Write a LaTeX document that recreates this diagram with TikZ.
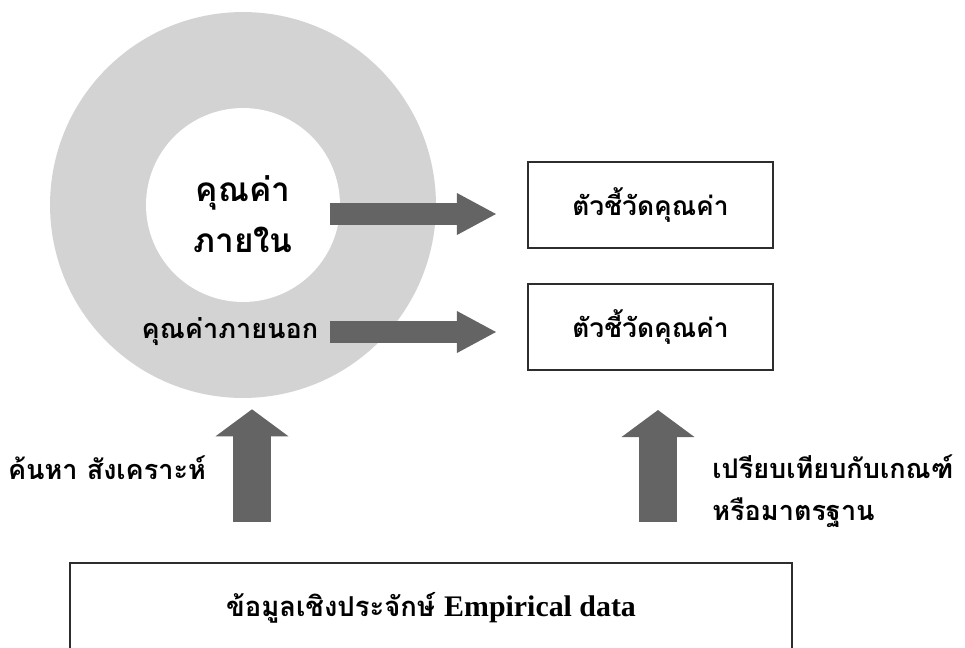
\documentclass[tikz,border=0pt]{standalone}
\usepackage{fontspec}
\setmainfont{Liberation Serif}
\newfontfamily\thai[Script=Thai]{Loma}
\usetikzlibrary{arrows.meta}
\definecolor{ringgray}{RGB}{211,211,211}
\definecolor{arrgray}{RGB}{100,100,100}
\definecolor{boxline}{RGB}{45,45,45}
\begin{document}
\begin{tikzpicture}[x=0.02cm,y=-0.02cm,
	ring/.style={circle,fill=ringgray,inner sep=0pt,minimum size=7.72cm},
	hole/.style={circle,fill=white,inner sep=0pt,minimum size=3.88cm},
	box/.style={draw=boxline,line width=1.2pt,minimum width=4.9cm,minimum height=1.72cm,font=\thai\bfseries\fontsize{15}{18}\selectfont},
	lbl/.style={inner sep=0pt,font=\thai\bfseries\fontsize{15.4}{24}\selectfont},
	harr/.style={draw=arrgray,line width=0.44cm,-{Triangle[length=0.78cm,width=0.84cm,line width=0pt]}},
	varr/.style={draw=arrgray,line width=0.78cm,-{Triangle[length=0.54cm,width=1.46cm,line width=0pt]}}]
		\useasboundingbox (0,0) rectangle (965,647);
		\clip (0,0) rectangle (965,647);
		\node[ring] (outer) at (243,205) {};
		\node[hole] (inner) at (243,205) {};
		\node[lbl,align=center,font=\thai\bfseries\fontsize{19}{29}\selectfont] (intext) at (243,214) {คุณค่า\\ภายใน};
		\node[lbl] (extext) at (230,332) {คุณค่าภายนอก};
		\node[box] (m1) at (650.5,205) {ตัวชี้วัดคุณค่า};
		\node[box] (m2) at (650.5,327) {ตัวชี้วัดคุณค่า};
		\node[box,minimum width=14.44cm,minimum height=1.8cm,font=\thai\bfseries\fontsize{15.6}{18}\selectfont] (data) at (431,608) {ข้อมูลเชิงประจักษ์ {\rmfamily\bfseries\fontsize{17}{18}\selectfont Empirical data}};
		\node[lbl] (search) at (107,468) {ค้นหา สังเคราะห์};
		\node[lbl,align=left,anchor=west] (compare) at (712,491) {เปรียบเทียบกับเกณฑ์\\หรือมาตรฐาน};
		\coordinate (a1) at (330,214);
		\coordinate (a2) at (330,332);
		\coordinate (u1) at (252,522);
		\coordinate (u2) at (658,522);
		\draw[harr,shorten >=0.62cm] (a1) -- (a1 -| m1.west);
		\draw[harr,shorten >=0.62cm] (a2) -- (a2 -| m2.west);
		\draw[varr,shorten >=0.22cm] (u1) -- (u1 |- outer.south);
		\draw[varr,shorten >=0.78cm] (u2) -- (u2 |- m2.south);
\end{tikzpicture}
\end{document}
